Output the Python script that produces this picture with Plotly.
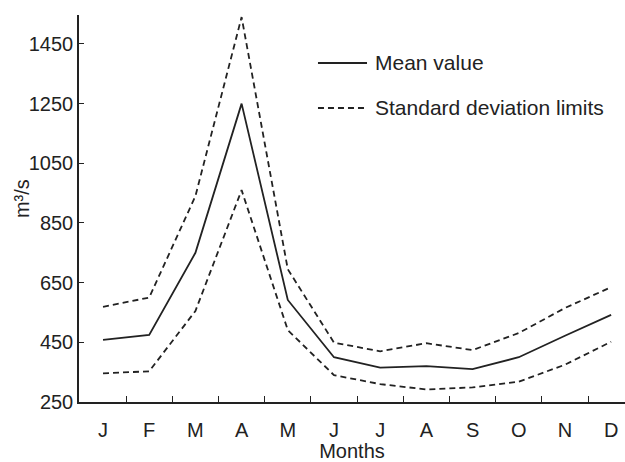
import plotly.graph_objects as go

months = ["J", "F", "M", "A", "M", "J", "J", "A", "S", "O", "N", "D"]
mean_vals = [458, 475, 750, 1250, 592, 400, 365, 370, 360, 400, 472, 542]
upper_vals = [569, 600, 940, 1540, 695, 449, 420, 447, 424, 481, 565, 635]
lower_vals = [346, 353, 555, 960, 491, 340, 310, 292, 299, 318, 375, 452]
y_ticks = [250, 450, 650, 850, 1050, 1250, 1450]
legend_labels = ["Mean value", "Standard deviation limits"]

x = list(range(len(months)))
col = "#222222"
font = "Liberation Sans, Arial, sans-serif"
dash = "6px,4px"

fig = go.Figure()
fig.add_trace(go.Scatter(x=x, y=mean_vals, mode="lines", name=legend_labels[0],
                         line=dict(color=col, width=1.8), showlegend=False))
fig.add_trace(go.Scatter(x=x, y=upper_vals, mode="lines", name=legend_labels[1],
                         line=dict(color=col, width=1.8, dash=dash), showlegend=False))
fig.add_trace(go.Scatter(x=x, y=lower_vals, mode="lines", name=legend_labels[1],
                         line=dict(color=col, width=1.8, dash=dash), showlegend=False))

# manual legend (sample lines + labels)
leg_x0, leg_x1, leg_tx = 0.4377, 0.5275, 0.5385
leg_ys = [0.876, 0.7597]
for lab, ly, d in zip(legend_labels, leg_ys, ["solid", dash]):
    fig.add_shape(type="line", xref="paper", yref="paper", x0=leg_x0, x1=leg_x1,
                  y0=ly, y1=ly, line=dict(color=col, width=1.8, dash=d))
    fig.add_annotation(xref="paper", yref="paper", x=leg_tx, y=ly, text=lab,
                       showarrow=False, xanchor="left", yanchor="middle",
                       font=dict(size=21, color=col, family=font))

# y-axis title
fig.add_annotation(xref="paper", yref="paper", x=-0.1044, y=0.527, text="m³/s",
                   textangle=-90, showarrow=False, xanchor="center", yanchor="middle",
                   font=dict(size=20, color=col, family=font))

fig.update_layout(
    width=625, height=462,
    margin=dict(l=79, r=0, t=15, b=60),
    paper_bgcolor="white", plot_bgcolor="white",
    font=dict(family=font, size=20, color=col),
    showlegend=False,
)
fig.update_xaxes(
    range=[-0.52, 11.3], tickmode="array", tickvals=x, ticktext=months,
    ticks="", showline=True, linecolor=col, linewidth=1.5, showgrid=False,
    zeroline=False, ticklabelstandoff=9,
    minor=dict(tickmode="array", tickvals=[i + 0.5 for i in x], ticks="inside",
               ticklen=6, tickcolor=col, tickwidth=1.3, showgrid=False),
    title=dict(text="Months", standoff=5, font=dict(size=20)),
)
fig.update_yaxes(
    range=[250, 1547], tickmode="array", tickvals=y_ticks,
    ticks="inside", ticklen=5, tickcolor=col, tickwidth=1.3,
    showline=True, linecolor=col, linewidth=1.5, showgrid=False, zeroline=False,
)

fig.write_html("out.html")
